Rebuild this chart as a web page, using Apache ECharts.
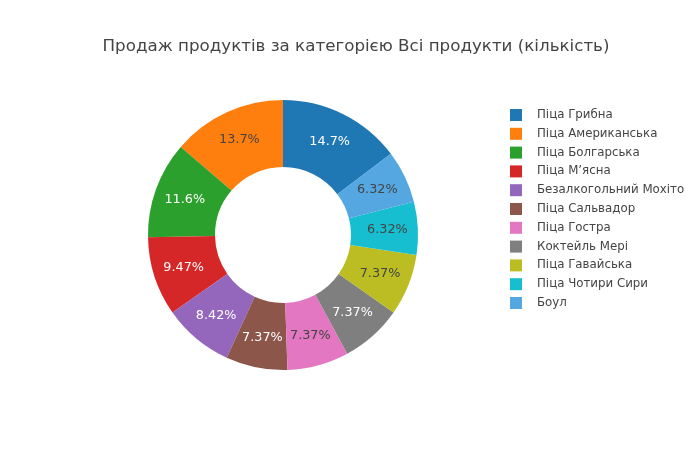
<!DOCTYPE html>
<html>
<head>
<meta charset="utf-8">
<script src="https://cdn.jsdelivr.net/npm/echarts@6/dist/echarts.min.js"></script>
<style>
  html, body { margin: 0; padding: 0; background: #fff; }
  #chart { width: 700px; height: 450px; }
</style>
</head>
<body>
<div id="chart"></div>
<script>
/*********** дані ***********/
var products = ['Піца Грибна', 'Піца Американська', 'Піца Болгарська', 'Піца М\u2019ясна',
  'Безалкогольний Мохіто', 'Піца Сальвадор', 'Піца Гостра', 'Коктейль Мері',
  'Піца Гавайська', 'Піца Чотири Сири', 'Боул'];
var counts = [14, 13, 11, 9, 8, 7, 7, 7, 7, 6, 6];
var colors = ['#1f77b4', '#ff7f0e', '#2ca02c', '#d62728', '#9467bd', '#8c564b',
  '#e377c2', '#7f7f7f', '#bcbd22', '#17becf', '#55a7e2'];
var labelColors = ['#fff', '#444', '#fff', '#fff', '#fff', '#fff',
  '#444', '#fff', '#444', '#444', '#444'];

var total = counts.reduce(function (a, b) { return a + b; }, 0);
var font = 'DejaVu Sans, Verdana, sans-serif';

var pieData = [];
for (var i = 0; i < products.length; i++) {
  pieData.push({
    name: products[i],
    value: counts[i],
    itemStyle: { color: colors[i] },
    label: { color: labelColors[i] }
  });
}

function fmtPct(p) {
  // 3 значущі цифри, як у plotly
  var v = p.value / total * 100;
  return Number(v.toPrecision(3)) + '%';
}

var myChart = echarts.init(document.getElementById('chart'));

var option = {
  animation: false,
  backgroundColor: '#fff',
  title: {
    text: 'Продаж продуктів за категорією Всі продукти (кількість)',
    left: 351,
    top: 33,
    textAlign: 'center',
    textStyle: { fontFamily: font, fontSize: 16.7, fontWeight: 'normal', color: '#444' }
  },
  legend: {
    orient: 'vertical',
    left: 505,
    top: 104,
    itemWidth: 12,
    itemHeight: 12,
    itemGap: 6.8,
    icon: 'rect',
    data: products,
    textStyle: { fontFamily: font, fontSize: 11.8, color: '#444', padding: [0, 0, 0, 10] }
  },
  series: [
    {
      type: 'pie',
      center: [283, 235],
      radius: [68, 135],
      startAngle: 90 - 360 * counts[0] / total,
      clockwise: false,
      avoidLabelOverlap: false,
      itemStyle: { borderWidth: 0 },
      label: {
        show: true,
        position: 'inside',
        formatter: fmtPct,
        fontFamily: font,
        fontSize: 12.8
      },
      labelLine: { show: false },
      emphasis: { disabled: true },
      data: pieData
    }
  ]
};

myChart.setOption(option);
</script>
</body>
</html>
